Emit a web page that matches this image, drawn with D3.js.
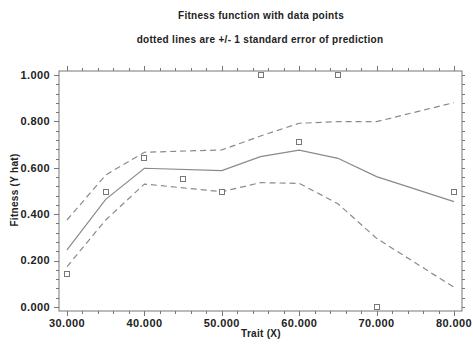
<!DOCTYPE html>
<html><head><meta charset="utf-8">
<script src="https://cdn.jsdelivr.net/npm/d3@7"></script>
<style>body{margin:0;background:#fff}svg{display:block}text{font-family:"Liberation Sans",Arial,sans-serif;fill:#222}</style>
</head><body>
<svg id="c" width="473" height="348"></svg>
<script>
const titleText = "Fitness function with data points";
const subtitleText = "dotted lines are +/- 1 standard error of prediction";
const xTitle = "Trait (X)";
const yTitle = "Fitness (Y hat)";
const curveX = [30, 35, 40, 50, 55, 60, 65, 70, 80];
const fitted = [0.246, 0.464, 0.598, 0.588, 0.648, 0.676, 0.641, 0.562, 0.454];
const upperSE = [0.375, 0.569, 0.667, 0.677, 0.737, 0.792, 0.799, 0.799, 0.881];
const lowerSE = [0.174, 0.375, 0.530, 0.497, 0.536, 0.533, 0.445, 0.296, 0.085];
const pointX = [30, 35, 40, 45, 50, 55, 60, 65, 70, 80];
const pointY = [0.142, 0.497, 0.641, 0.550, 0.497, 1.0, 0.710, 1.0, 0.0, 0.497];
const xTicks = [30, 40, 50, 60, 70, 80];
const yTicks = [0, 0.2, 0.4, 0.6, 0.8, 1.0];

const svg = d3.select("#c");
const frame = {l: 59, r: 462, t: 71, b: 311};
const x = d3.scaleLinear().domain([30, 80]).range([67, 454]);
const y = d3.scaleLinear().domain([0, 1]).range([307, 75]);
const axisCol = "#777", lineCol = "#8a8a8a";

// frame
svg.append("rect").attr("x", frame.l).attr("y", frame.t)
  .attr("width", frame.r - frame.l).attr("height", frame.b - frame.t)
  .attr("fill", "none").attr("stroke", axisCol).attr("stroke-width", 1);

const xMinor = d3.range(30, 80.01, 2);
const yMinor = d3.range(0, 1.0001, 0.04);
const g = svg.append("g").attr("stroke", axisCol).attr("stroke-width", 1);
xMinor.forEach(v => {
  const major = xTicks.some(t => Math.abs(t - v) < 1e-6);
  const L = major ? 5 : 3;
  const px = Math.round(x(v)) + 0.5;
  g.append("line").attr("x1", px).attr("x2", px).attr("y1", frame.b).attr("y2", frame.b + L);
  g.append("line").attr("x1", px).attr("x2", px).attr("y1", frame.t).attr("y2", frame.t - L);
});
yMinor.forEach(v => {
  const major = yTicks.some(t => Math.abs(t - v) < 1e-6);
  const L = major ? 5 : 3;
  const py = Math.round(y(v)) + 0.5;
  g.append("line").attr("x1", frame.l).attr("x2", frame.l - L).attr("y1", py).attr("y2", py);
  g.append("line").attr("x1", frame.r).attr("x2", frame.r + 3).attr("y1", py).attr("y2", py);
});

// tick labels
const fmt = d3.format(".3f");
svg.append("g").selectAll("text").data(yTicks).join("text")
  .attr("x", 50).attr("y", d => y(d)).attr("dy", "0.35em").attr("text-anchor", "end")
  .attr("font-size", 11).attr("font-weight", "bold").attr("letter-spacing", 0.4)
  .text(d => fmt(d));
svg.append("g").selectAll("text").data(xTicks).join("text")
  .attr("x", d => x(d)).attr("y", 327).attr("text-anchor", "middle")
  .attr("font-size", 11).attr("font-weight", "bold").attr("letter-spacing", 0.4)
  .text(d => fmt(d));

// titles
svg.append("text").attr("x", 261).attr("y", 19).attr("text-anchor", "middle")
  .attr("font-size", 10).attr("font-weight", "bold").attr("letter-spacing", 0.3).text(titleText);
svg.append("text").attr("x", 260).attr("y", 43).attr("text-anchor", "middle")
  .attr("font-size", 10).attr("font-weight", "bold").attr("letter-spacing", 0.3).text(subtitleText);
svg.append("text").attr("x", 261).attr("y", 337).attr("text-anchor", "middle")
  .attr("font-size", 10).attr("font-weight", "bold").attr("letter-spacing", 0.3).text(xTitle);
svg.append("text").attr("transform", "translate(18,190) rotate(-90)").attr("text-anchor", "middle")
  .attr("font-size", 10).attr("font-weight", "bold").attr("letter-spacing", 0.3).text(yTitle);

// lines
const line = d3.line().x(d => x(d[0])).y(d => y(d[1]));
const mk = arr => curveX.map((v, i) => [v, arr[i]]);
svg.append("path").attr("d", line(mk(fitted))).attr("fill", "none")
  .attr("stroke", lineCol).attr("stroke-width", 1.2);
[upperSE, lowerSE].forEach(arr => {
  svg.append("path").attr("d", line(mk(arr))).attr("fill", "none")
    .attr("stroke", lineCol).attr("stroke-width", 1.2).attr("stroke-dasharray", "6,4");
});

// points
svg.append("g").selectAll("rect").data(pointX.map((v, i) => [v, pointY[i]])).join("rect")
  .attr("x", d => Math.round(x(d[0])) - 2.5).attr("y", d => Math.round(y(d[1])) - 2.5)
  .attr("width", 5).attr("height", 5).attr("fill", "#fff")
  .attr("stroke", "#777").attr("stroke-width", 1);
</script>
</body></html>
